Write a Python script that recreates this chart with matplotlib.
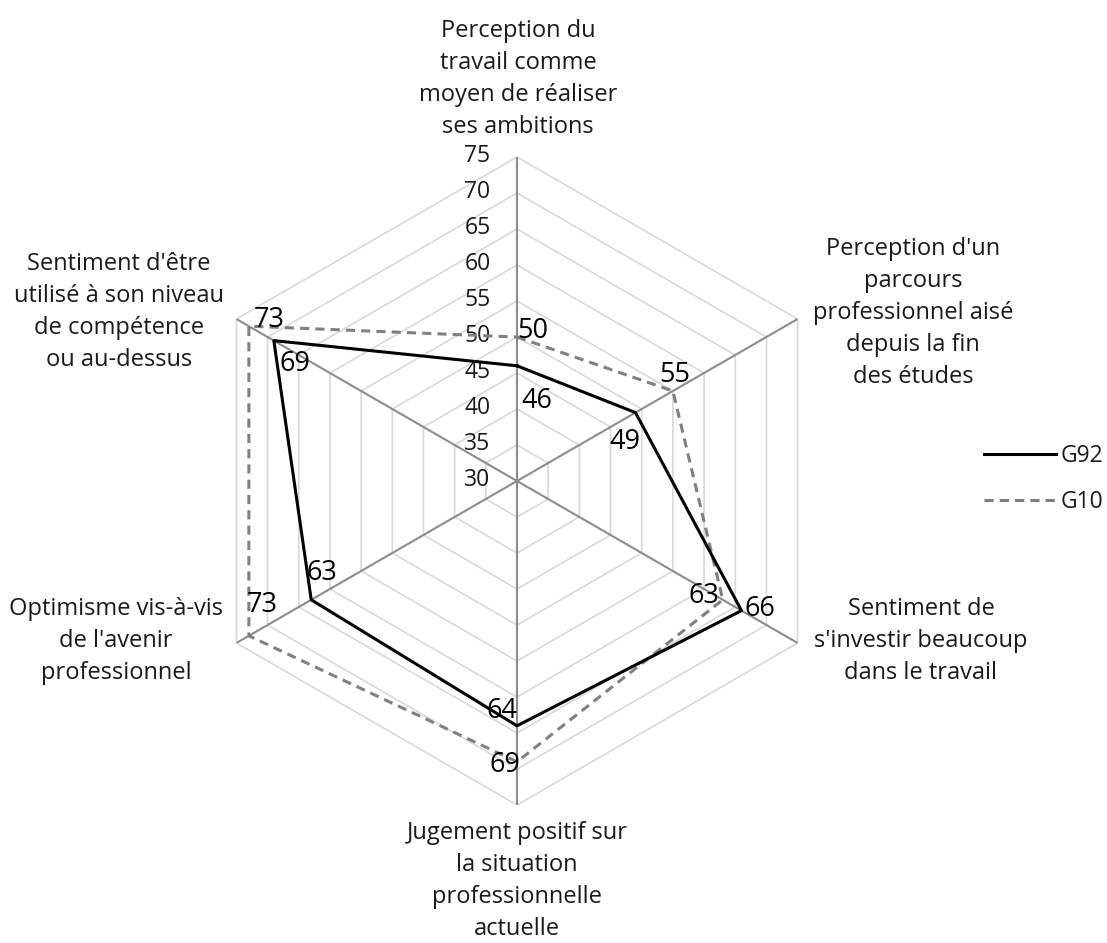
import numpy as np
import matplotlib
matplotlib.use("Agg")
import matplotlib.pyplot as plt
from matplotlib.lines import Line2D

plt.rcParams['font.family'] = ['Open Sans', 'DejaVu Sans']

# data
categories = [
    "Perception du\ntravail comme\nmoyen de réaliser\nses ambitions",
    "Perception d'un\nparcours\nprofessionnel aisé\ndepuis la fin\ndes études",
    "Sentiment de\ns'investir beaucoup\ndans le travail",
    "Jugement positif sur\nla situation\nprofessionnelle\nactuelle",
    "Optimisme vis-à-vis\nde l'avenir\nprofessionnel",
    "Sentiment d'être\nutilisé à son niveau\nde compétence\nou au-dessus",
]
g92 = [46, 49, 66, 64, 63, 69]
g10 = [50, 55, 63, 69, 73, 73]
r_ticks = [30, 35, 40, 45, 50, 55, 60, 65, 70, 75]

W, H = 1107, 943
fig = plt.figure(figsize=(W / 100, H / 100), dpi=100)

# polar axes centred at (517, 481) px, radius 324 px
cx, cy, R = 517, 481, 324
ax = fig.add_axes([(cx - R) / W, (H - cy - R) / H, 2 * R / W, 2 * R / H],
                  projection='polar')
ax.set_theta_offset(np.pi / 2)
ax.set_theta_direction(-1)
ax.set_ylim(30, 75)
ax.grid(False)
ax.set_xticks([])
ax.set_yticks([])
ax.spines['polar'].set_visible(False)
ax.patch.set_alpha(0)

n = len(categories)
theta = np.arange(n) * 2 * np.pi / n
theta_c = np.append(theta, theta[0])

# hexagonal grid
for r in r_ticks[1:]:
    ax.plot(theta_c, [r] * (n + 1), color='#d9d9d9', lw=1.2, zorder=1)
for t in theta:
    ax.plot([t, t], [30, 75], color='#8c8c8c', lw=1.5, zorder=2)

# tick labels along the top axis
for r in r_ticks:
    ax.annotate(str(r), xy=(0, r), xytext=(-19, 1), textcoords='offset points',
                ha='right', va='center', fontsize=16.5, color='#1a1a1a')

# series
ax.plot(theta_c, g10 + g10[:1], color='#808080', lw=2.2, ls=(0, (3, 2)), zorder=3)
ax.plot(theta_c, g92 + g92[:1], color='black', lw=2.2, zorder=4)

# data labels (offsets in px)
off_g10 = [(16, 6), (2, 16), (-19, 4), (-12, -3), (13, 31), (20, 6)]
off_g92 = [(20, -35), (-11, -29), (18, 2), (-15, 15), (11, 27), (21, -23)]
for vals, offs in ((g10, off_g10), (g92, off_g92)):
    for t, v, (dx, dy) in zip(theta, vals, offs):
        ax.annotate(str(v), xy=(t, v), xytext=(dx * 0.72, dy * 0.72),
                    textcoords='offset points', ha='center', va='center',
                    fontsize=19.5, color='black', zorder=5)

# category labels (centres in px)
cat_pos = [(518, 79), (913, 313), (921, 641), (517, 881), (116, 641), (119, 312)]
for lab, (px, py) in zip(categories, cat_pos):
    fig.text(px / W, 1 - py / H, lab, ha='center', va='center', fontsize=17,
             color='#1a1a1a', linespacing=1.45)

# legend
handles = [Line2D([], [], color='black', lw=2.2),
           Line2D([], [], color='#808080', lw=2.2, ls=(0, (3, 2)))]
fig.legend(handles, ['G92', 'G10'], loc='center left',
           bbox_to_anchor=(984 / W, 1 - 479 / H), frameon=False, fontsize=16.5,
           handlelength=3.15, handletextpad=0.2, labelspacing=1.0,
           borderpad=0, borderaxespad=0, labelcolor='#1a1a1a')

fig.savefig('out.png', dpi=100)
